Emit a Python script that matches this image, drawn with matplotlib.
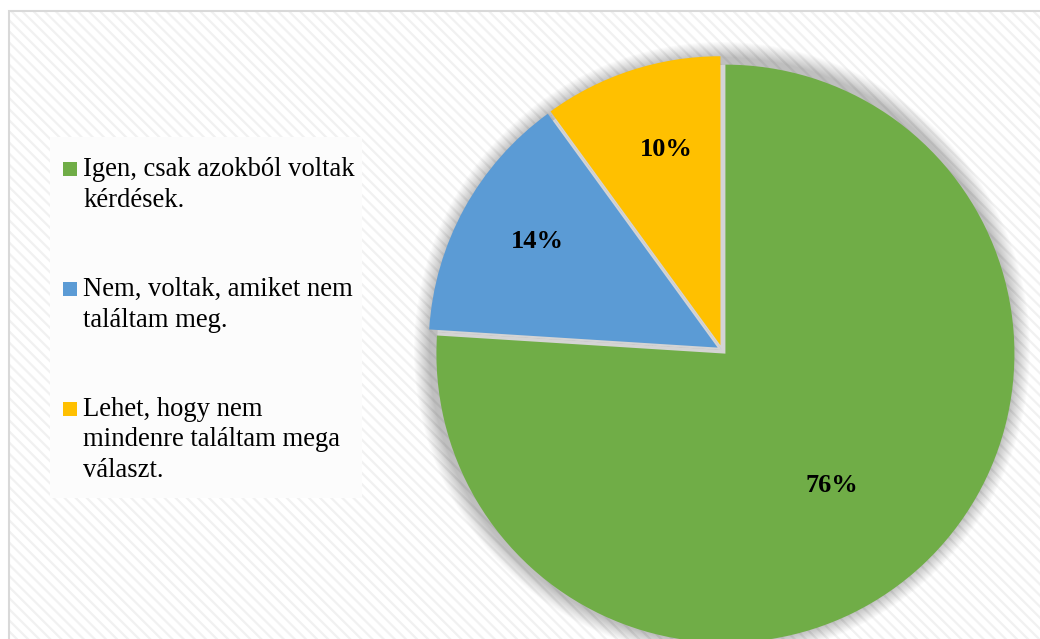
import matplotlib
matplotlib.use("Agg")
import matplotlib.pyplot as plt
import numpy as np
from matplotlib.patches import Rectangle

# survey answers
labels = ["Igen, csak azokból voltak\nkérdések.",
          "Nem, voltak, amiket nem\ntaláltam meg.",
          "Lehet, hogy nem\nmindenre találtam mega\nválaszt."]
values = [76, 14, 10]
colors = ["#70ad47", "#5b9bd5", "#ffc000"]

W, H = 1040, 639

plt.rcParams["font.family"] = ["Liberation Serif", "DejaVu Serif"]
plt.rcParams["hatch.linewidth"] = 1.6

fig = plt.figure(figsize=(W / 100, H / 100), dpi=100)
ax = fig.add_axes([0, 0, 1, 1])

# chart area with light diagonal stripes
ax.add_patch(Rectangle((9, -10), W + 20, H - 11 + 10, facecolor="white",
                       edgecolor="#f1f1f1", hatch="\\\\\\", lw=0, zorder=0))
ax.add_patch(Rectangle((9, -10), W + 20, H - 11 + 10, facecolor="none",
                       edgecolor="#d9d9d9", lw=1.5, zorder=1))

cx, cy, r = 722, H - 350, 289
# pie offsets are in data units here (pixels)
explode = [5, 5, 5]

# soft glow around the whole pie
for k in range(16, 0, -1):
    ax.pie(values, radius=r + 3 + k, center=(cx, cy), startangle=90,
           counterclock=False, frame=True, colors=["#000000"] * 3,
           wedgeprops=dict(alpha=0.016, lw=0, zorder=2))

# grey showing through the gaps between slices
ax.pie(values, radius=r - 4, center=(cx, cy), startangle=90,
       counterclock=False, frame=True, colors=["#d4d4d4"] * 3,
       wedgeprops=dict(lw=0, zorder=2.5))

wedges, _ = ax.pie(values, radius=r, center=(cx, cy), startangle=90,
                   counterclock=False, explode=explode, colors=colors,
                   frame=True, wedgeprops=dict(lw=0, zorder=3))

ax.set_xlim(0, W)
ax.set_ylim(0, H)
ax.axis("off")

# percentage labels (distance from slice tip, clockwise nudge in degrees)
dist = [0.58, 0.73, 0.71]
nudge = [3.7, 2.3, 2.7]
for w, v, d, n in zip(wedges, values, dist, nudge):
    ang = np.deg2rad((w.theta1 + w.theta2) / 2 - n)
    x = w.center[0] + w.r * d * np.cos(ang)
    y = w.center[1] + w.r * d * np.sin(ang)
    ax.text(x, y, f"{v}%", ha="center", va="center_baseline", fontsize=19,
            fontweight="bold", color="black", zorder=5)

# legend panel
ax.add_patch(Rectangle((50, H - 498), 312, 361, facecolor="#fcfcfc",
                       edgecolor="none", zorder=4))
top = H - 177
for i, (lab, c) in enumerate(zip(labels, colors)):
    base = top - i * 120
    nlines = lab.count("\n")
    ax.add_patch(Rectangle((63, base + 1), 14, 14, facecolor=c,
                           edgecolor="none", zorder=5))
    ax.text(83, base - nlines * 30, lab, ha="left", va="baseline",
            fontsize=19.2, linespacing=1.3, color="black", zorder=5)

fig.savefig("out.png", dpi=100)
